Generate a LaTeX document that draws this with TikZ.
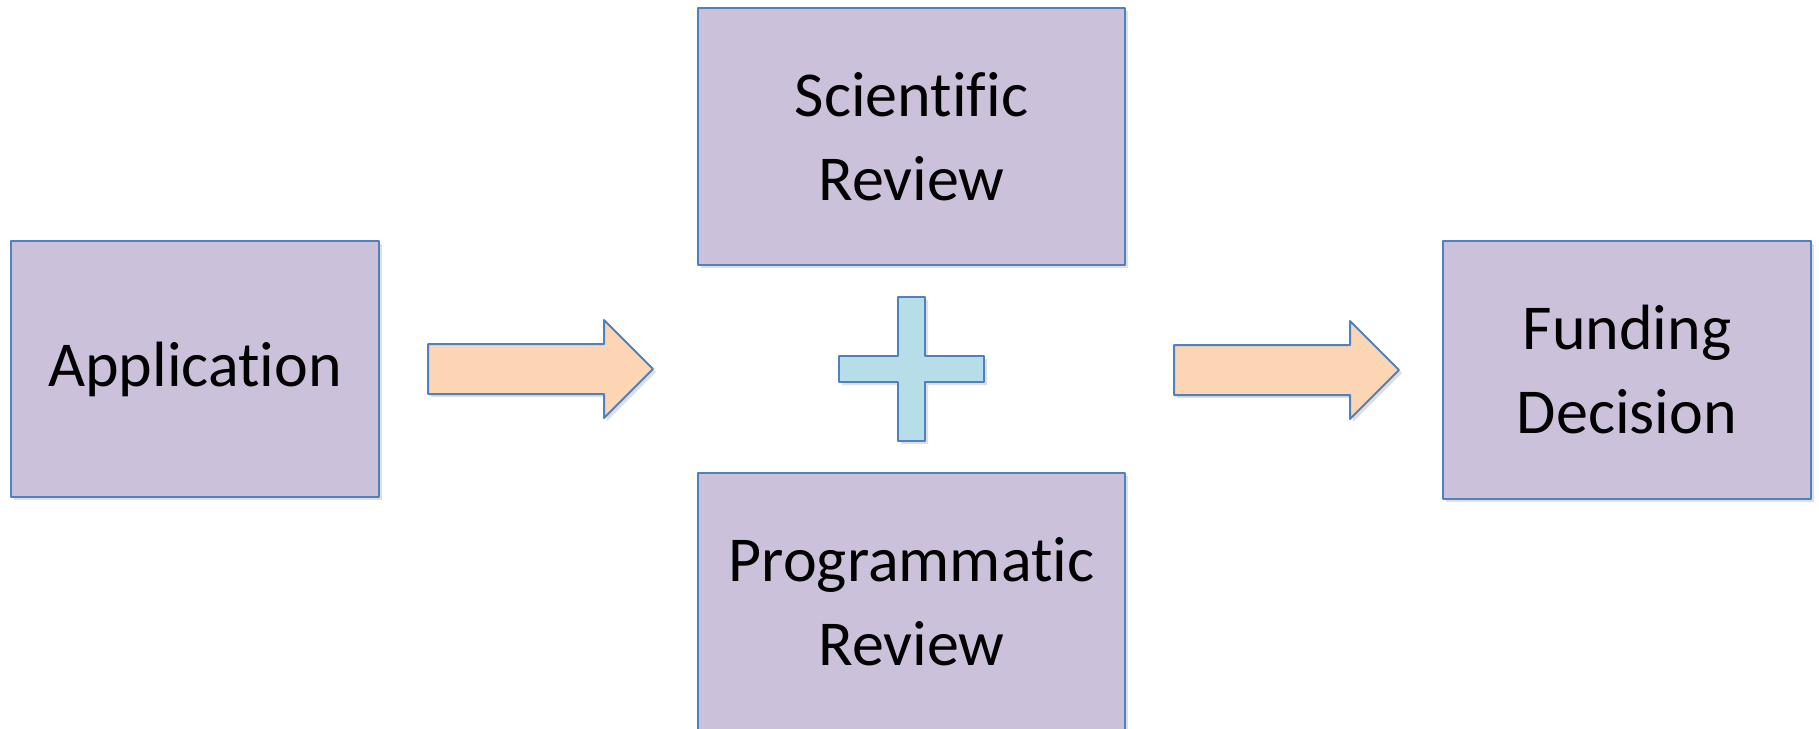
\documentclass[tikz,border=0pt]{standalone}
\usepackage{fontspec}
\setmainfont{Carlito}[RawFeature={-liga}]
\usetikzlibrary{shapes.arrows,shadows,calc}
\definecolor{boxfill}{HTML}{CCC1DA}
\definecolor{edgeblue}{HTML}{4F81BD}
\definecolor{arrowfill}{HTML}{FCD5B5}
\definecolor{plusfill}{HTML}{B7DEE8}
\begin{document}
\begin{tikzpicture}[x=0.5pt, y=-0.5pt, line join=round,
	softshadow/.style={drop shadow={opacity=0.25, shadow xshift=1.5pt, shadow yshift=-1.5pt}},
	box/.style={draw=edgeblue, fill=boxfill, line width=1pt, align=center, inner sep=0pt,
		font=\fontsize{32}{42}\selectfont, softshadow},
	bigarrow/.style={single arrow, draw=edgeblue, fill=arrowfill, line width=1pt,
		inner xsep=0pt, inner ysep=12pt, minimum height=112.5pt,
		single arrow head extend=12pt, anchor=tail, softshadow}]
	\useasboundingbox (0,0) rectangle (1819,728);
	\node[box, minimum width=184pt, minimum height=128pt] (app) at (195,369) {Application};
	\node[box, minimum width=213.5pt, minimum height=128.5pt] (sci) at (911.5,136.5) {Scientific\\Review};
	\node[box, minimum width=213.5pt, minimum height=128.5pt] (prog) at (911.5,601.5) {Programmatic\\Review};
	\node[box, minimum width=184pt, minimum height=129pt] (fund) at (1627,370) {Funding\\Decision};
	\node[bigarrow] (arr1) at ([xshift=23.5pt]app.east) {};
	\node[bigarrow] (arr2) at ([xshift=23.5pt]sci.east |- fund.west) {};
	\coordinate (plus) at ($(sci.south)!0.5!(prog.north)$);
	\draw[draw=edgeblue, fill=plusfill, line width=1pt, softshadow] (plus) ++(-13.5,-72)
		-- ++(27,0) -- ++(0,59) -- ++(59,0) -- ++(0,26) -- ++(-59,0) -- ++(0,59)
		-- ++(-27,0) -- ++(0,-59) -- ++(-59,0) -- ++(0,-26) -- ++(59,0) -- cycle;
\end{tikzpicture}
\end{document}
